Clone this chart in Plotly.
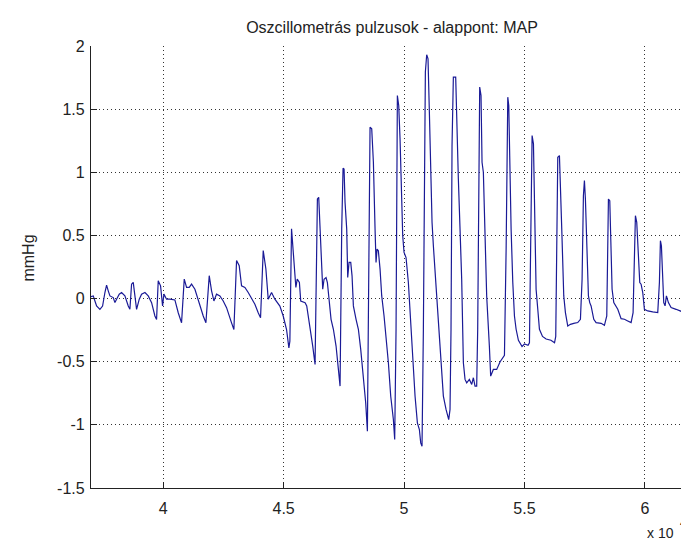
import plotly.graph_objects as go

# sample index (x) and cuff pressure oscillation (mmHg)
sample_x = [
    37000, 37094, 37163, 37232, 37370, 37481, 37578, 37647, 37716, 37786, 37924, 37993,
    38062, 38173, 38270, 38408, 38547, 38616, 38685, 38754, 38824, 38893, 39004, 39100,
    39239, 39377, 39516, 39654, 39723, 39792, 39889, 39972, 40028, 40138, 40277, 40484,
    40623, 40761, 40872, 40969, 41080, 41176, 41315, 41453, 41661, 41772, 41910, 42007,
    42104, 42214, 42353, 42491, 42630, 42837, 42934, 43045, 43155, 43252, 43391, 43529,
    43668, 43806, 43944, 44041, 44152, 44263, 44360, 44498, 44636, 44844, 44982, 45121,
    45218, 45259, 45328, 45398, 45508, 45564,
    45654, 45710, 45890, 45959, 46028, 46125, 46208, 46305, 46346, 46402, 46457, 46512,
    46581, 46623, 46678, 46761, 46817, 46886, 46969, 47066, 47177, 47274, 47343, 47412,
    47467, 47509, 47550, 47619, 47661, 47716, 47786, 47841, 47896, 48007, 48104, 48201,
    48312, 48408, 48478, 48533, 48588, 48658, 48727, 48796, 48837, 48879, 48934, 49004,
    49073, 49170, 49253, 49350, 49446, 49557, 49612, 49668, 49723, 49779, 49834, 49889,
    49945, 50000, 50083, 50180, 50249, 50318, 50388, 50457, 50554, 50637, 50692, 50747,
    50803, 50844, 50886, 50941, 50996, 51052, 51107, 51163, 51218, 51287, 51356, 51467,
    51564, 51633, 51744, 51855, 51910, 51951, 51993, 52048, 52145, 52187, 52256, 52325,
    52394, 52464, 52533, 52602, 52713, 52810, 52879, 52948, 53017, 53059, 53100, 53142,
    53197, 53239, 53294, 53363, 53432, 53543, 53598, 53709, 53847, 53990, 54120,
    54170, 54240, 54308, 54349, 54391, 54446, 54516, 54585, 54654, 54750, 54900, 55000,
    55150, 55208, 55249, 55318, 55374, 55415, 55484, 55554, 55623, 55750, 55900, 56100,
    56250, 56300, 56342, 56384, 56453, 56481, 56550, 56633, 56702, 56799, 56910, 57048,
    57214, 57325, 57394, 57449, 57491, 57532, 57588, 57657, 57712, 57768, 57879, 57976,
    58183, 58322, 58419, 58460, 58488, 58544, 58599, 58640, 58710, 58793, 58876, 59014,
    59152, 59290, 59429, 59512, 59567, 59609, 59664, 59733, 59789, 59844, 59913, 59982,
    60121, 60328, 60536, 60605, 60647, 60688, 60730, 60785, 60840, 60896, 60979, 61090,
    61297, 61505, 61643, 61699, 61740, 61782, 61823, 61893, 61948, 62000,
]
pressure_mmhg = [
    0.016, 0.021, -0.019, -0.059, -0.085, -0.059, 0.048, 0.106, 0.061, 0.021, 0.008, -0.032,
    -0.005, 0.035, 0.048, 0.021, -0.059, -0.085, 0.114, 0.128, 0.021, -0.085, -0.005, 0.035,
    0.048, 0.021, -0.032, -0.138, -0.165, 0.141, 0.101, -0.059, 0.035, -0.005, -0.005, -0.011,
    -0.112, -0.192, 0.154, 0.088, 0.088, 0.114, 0.074, -0.019, -0.138, -0.192, 0.181, 0.061,
    -0.019, 0.035, 0.021, -0.019, -0.072, -0.192, -0.245, 0.301, 0.261, 0.101, 0.088, 0.048,
    -0.005, -0.045, -0.112, -0.152, 0.380, 0.234, -0.005, 0.048, -0.005, -0.059, -0.138, -0.245,
    -0.391, -0.338, 0.553, 0.340, 0.088, 0.154,
    0.127, -0.019, -0.032, -0.058, -0.138, -0.243, -0.376, -0.521, 0.153, 0.788, 0.802, 0.577,
    0.339, 0.074, 0.153, 0.167, 0.127, -0.032, -0.164, -0.243, -0.376, -0.561, -0.693, 0.550,
    1.032, 1.026, 0.762, 0.550, 0.167, 0.286, 0.286, 0.180, -0.058, -0.164, -0.243, -0.402,
    -0.640, -0.825, -1.050, 0.286, 1.357, 1.344, 1.079, 0.550, 0.286, 0.392, 0.378, 0.233,
    0.021, -0.138, -0.296, -0.508, -0.772, -0.958, -1.116, -0.243, 1.608, 1.529, 1.265, 0.894,
    0.497, 0.365, 0.325, 0.127, -0.111, -0.349, -0.561, -0.772, -0.984, -1.037, -1.143, -1.169,
    -0.243, 0.550, 1.794, 1.931, 1.899, 1.476, 1.026, 0.603, 0.418, 0.233, -0.032, -0.296,
    -0.561, -0.772, -0.878, -0.958, -0.878, -0.243, 1.212, 1.754, 1.754, 1.344, 0.947, 0.550,
    0.153, -0.508, -0.640, -0.667, -0.640, -0.680, -0.627, -0.693, -0.693, -0.243, 1.079, 1.675,
    1.608, 1.079, 1.000, 0.550, 0.021, -0.376, -0.614, -0.561, -0.561, -0.500, -0.470,
    -0.450, 0.400, 1.595, 1.529, 1.079, 0.550, 0.127, -0.138, -0.243, -0.330, -0.380, -0.360,
    -0.370, -0.350, 0.286, 1.291, 1.225, 0.683, 0.074, -0.085, -0.243, -0.300, -0.320, -0.330,
    -0.350, -0.300, 0.603, 1.119, 1.132, 0.894, 0.550, 0.021, -0.111, -0.217, -0.204, -0.196,
    -0.190, -0.164, 0.153, 0.815, 0.934, 0.788, 0.497, 0.021, -0.032, -0.058, -0.164, -0.190,
    -0.196, -0.212, -0.138, 0.286, 0.788, 0.775, 0.444, 0.074, -0.032, -0.058, -0.085, -0.159,
    -0.164, -0.177, -0.190, -0.111, 0.444, 0.656, 0.603, 0.286, 0.127, 0.114, 0.048, -0.085,
    -0.098, -0.106, -0.111, 0.127, 0.458, 0.418, 0.153, -0.032, -0.058, 0.021, -0.032, -0.071,
    -0.085, -0.098, -0.111, 0.286, 0.537, 0.497, 0.180, 0.127, 0.140, 0.130,
]

x_tick_vals = [40000, 45000, 50000, 55000, 60000]
x_tick_text = ["4", "4.5", "5", "5.5", "6"]
y_tick_vals = [-1.5, -1, -0.5, 0, 0.5, 1, 1.5, 2]
y_tick_text = ["-1.5", "-1", "-0.5", "0", "0.5", "1", "1.5", "2"]

FONT = "Liberation Sans, Arial, Helvetica, sans-serif"
FS = 16

fig = go.Figure()
fig.add_trace(go.Scatter(
    x=sample_x, y=pressure_mmhg, mode="lines",
    line=dict(color="#1a1a96", width=1.2),
    hoverinfo="skip", showlegend=False,
))

axis_common = dict(
    showline=True, linecolor="#222222", linewidth=1.3, mirror=False,
    ticks="inside", ticklen=6, tickcolor="#222222", tickwidth=1,
    showgrid=True, gridcolor="#333333", griddash="1px,3px", gridwidth=1,
    zeroline=False, tickfont=dict(family=FONT, size=FS, color="#222222"),
)

fig.update_layout(
    width=689, height=542,
    margin=dict(l=83, r=4, t=38, b=62),
    paper_bgcolor="white", plot_bgcolor="white",
    font=dict(family=FONT, size=FS, color="#222222"),
    title=dict(text="Oszcillometrás pulzusok - alappont: MAP", x=0.5, xref="paper",
               y=1 - 19 / 542, yref="container", yanchor="middle",
               font=dict(family=FONT, size=FS, color="#222222")),
    xaxis=dict(range=[37000, 62000], tickvals=x_tick_vals, ticktext=x_tick_text,
               ticklabelstandoff=6, **axis_common),
    yaxis=dict(range=[-1.5, 2], tickvals=y_tick_vals, ticktext=y_tick_text,
               ticklabelstandoff=2, **axis_common),
    annotations=[
        dict(text="mmHg", textangle=-90, x=-0.104, y=0.52, xref="paper", yref="paper",
             showarrow=False, xanchor="center", yanchor="middle",
             font=dict(family=FONT, size=FS, color="#222222")),
        dict(text="x 10", x=0.972, y=-0.102, xref="paper", yref="paper",
             showarrow=False, xanchor="right", yanchor="middle",
             font=dict(family=FONT, size=14, color="#222222")),
        dict(text="4", x=0.984, y=-0.080, xref="paper", yref="paper",
             showarrow=False, xanchor="center", yanchor="middle",
             font=dict(family=FONT, size=12, color="#222222")),
    ],
)

fig.write_html("out.html")
